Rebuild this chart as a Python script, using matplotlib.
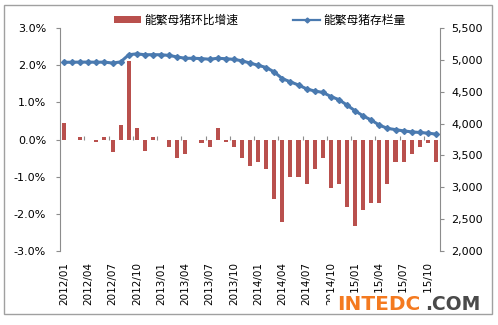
import matplotlib
matplotlib.use("Agg")
import matplotlib.pyplot as plt
from matplotlib.patches import Patch, Rectangle
from matplotlib.lines import Line2D
from matplotlib.ticker import FuncFormatter
import numpy as np

plt.rcParams['font.family'] = ['DejaVu Sans', 'Noto Sans CJK SC']

# monthly data, 2012/01 .. 2015/11
months = [f"{y}/{m:02d}" for y in range(2012, 2016) for m in range(1, 13)][:47]

# 能繁母猪环比增速 (%)
mom_change = [0.45, 0.0, 0.08, 0.0, -0.08, 0.08, -0.33, 0.38, 2.1, 0.3,
              -0.32, 0.08, -0.02, -0.2, -0.49, -0.38, 0.0, -0.1, -0.2, 0.3,
              -0.08, -0.2, -0.5, -0.72, -0.61, -0.8, -1.6, -2.22, -1.01, -1.01,
              -1.19, -0.8, -0.5, -1.31, -1.19, -1.82, -2.32, -1.9, -1.72, -1.72,
              -1.19, -0.61, -0.61, -0.4, -0.2, -0.1, -0.61]

# 能繁母猪存栏量 (万头)
stock = [4962, 4963, 4965, 4965, 4963, 4965, 4950, 4968, 5080, 5095,
         5080, 5082, 5080, 5070, 5045, 5025, 5025, 5020, 5010, 5025,
         5018, 5008, 4985, 4950, 4915, 4880, 4810, 4705, 4655, 4605,
         4545, 4510, 4490, 4425, 4375, 4290, 4200, 4120, 4055, 3975,
         3925, 3905, 3885, 3870, 3860, 3850, 3835]

bar_color = '#B9504D'
line_color = '#4A7AB0'
axis_gray = '#8C8C8C'
x = np.arange(len(months))

fig = plt.figure(figsize=(4.98, 3.25), dpi=100)
ax = fig.add_axes([0.1205, 0.2277, 0.763, 0.6861])

ax.bar(x, mom_change, width=0.5, color=bar_color, zorder=2)
ax.set_xlim(-0.5, len(months) - 0.5)
ax.set_ylim(-3, 3)
ax.set_yticks(np.arange(-3, 3.1, 1))
ax.yaxis.set_major_formatter(FuncFormatter(lambda v, p: f"{v:.1f}%"))
ax.tick_params(axis='y', direction='out', length=3, width=0.8, color=axis_gray,
               pad=7, labelsize=8)
ax.set_xticks(x[::3])
ax.set_xticklabels(months[::3], rotation=90)
ax.tick_params(axis='x', length=0, pad=8, labelsize=7.5)
for s in ['top', 'right', 'bottom']:
    ax.spines[s].set_visible(False)
ax.spines['left'].set_color(axis_gray)
ax.spines['left'].set_linewidth(0.8)

# category axis line at zero
zax = ax.secondary_xaxis(0.5)
zax.set_xticks(np.arange(2.5, len(months), 3))
zax.tick_params(axis='x', direction='out', length=3, width=0.8, color=axis_gray,
                labelbottom=False, labeltop=False)
zax.spines['bottom'].set_color(axis_gray)
zax.spines['bottom'].set_linewidth(0.8)
zax.spines['top'].set_visible(False)

ax2 = ax.twinx()
ax2.plot(x, stock, color=line_color, lw=2.2, marker='D', ms=3,
         markeredgecolor=line_color)
ax2.set_ylim(2000, 5500)
ax2.set_yticks(np.arange(2000, 5501, 500))
ax2.yaxis.set_major_formatter(FuncFormatter(lambda v, p: f"{int(v):,}"))
ax2.tick_params(axis='y', direction='out', length=3, width=0.8, color=axis_gray,
                pad=5, labelsize=8)
for s in ['top', 'left', 'bottom']:
    ax2.spines[s].set_visible(False)
ax2.spines['right'].set_color(axis_gray)
ax2.spines['right'].set_linewidth(0.8)

handles = [Patch(facecolor=bar_color, edgecolor='none'),
           Line2D([], [], color=line_color, lw=1.6, marker='D', ms=2.5)]
fig.legend(handles, ['能繁母猪环比增速', '能繁母猪存栏量'], ncol=2, loc='center',
           bbox_to_anchor=(0.522, 0.938), frameon=False,
           handlelength=2.3, handleheight=0.6, handletextpad=0.3,
           columnspacing=4.6,
           prop={'family': ['Noto Sans CJK SC'], 'size': 8.5})

fig.patches.append(Rectangle((0.008, 0.034), 0.98, 0.951, transform=fig.transFigure,
                             fill=False, edgecolor='#A0A0A0', lw=1))

# watermark with its white backing
fig.patches.append(Rectangle((330 / 498, 1 - 313 / 325), 155 / 498, 20 / 325,
                             transform=fig.transFigure, facecolor='white',
                             edgecolor='none', zorder=2))
fig.text(0.677, 0.046, 'INTEDC', color='#F47A20', fontsize=14.5,
         fontweight='bold', ha='left', va='baseline', zorder=3)
fig.text(0.853, 0.046, '.COM', color='#4A4A4A', fontsize=13.5,
         fontweight='bold', ha='left', va='baseline', zorder=3)

fig.savefig('out.png', dpi=100)
